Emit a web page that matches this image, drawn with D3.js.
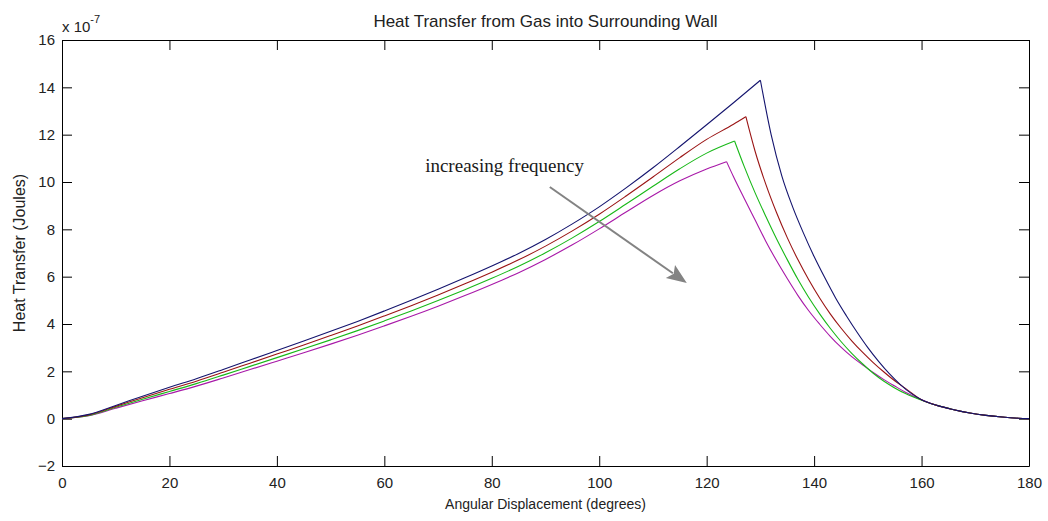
<!DOCTYPE html>
<html>
<head>
<meta charset="utf-8">
<script src="https://cdn.jsdelivr.net/npm/d3@7"></script>
<style>
	body { margin: 0; background: #fff; }
	svg { display: block; font-family: "Liberation Sans", Arial, sans-serif; }
</style>
</head>
<body>
<div id="chart"></div>
<script>

// Heat transfer curves (units of 1e-7 J) vs angular displacement (degrees)
// one series per frequency, lowest frequency first
let lowestFreq = [[0,0],[5,0.18],[10,0.56],[15,0.95],[20,1.33],[25,1.69],[30,2.08],[35,2.48],[40,2.88],[45,3.28],
	[50,3.69],[55,4.11],[60,4.55],[65,5.0],[70,5.47],[75,5.95],[80,6.45],[85,6.98],[90,7.57],[95,8.23],
	[100,8.95],[105,9.75],[110,10.6],[115,11.5],[120,12.42],[125,13.35],[130,14.3],
	[132,12.0],[134,10.25],[136,8.95],[138,7.85],[140,6.85],[142,5.95],[144,5.1],[146,4.35],[148,3.65],
	[150,3.0],[152,2.42],[154,1.9],[156,1.45],[158,1.08],[160,0.8]];

let lowFreq = [[0,0],[5,0.16],[10,0.52],[15,0.885],[20,1.24],[25,1.585],[30,1.96],[35,2.345],[40,2.73],[45,3.115],
	[50,3.51],[55,3.915],[60,4.34],[65,4.775],[70,5.23],[75,5.7],[80,6.19],[85,6.71],[90,7.29],[95,7.935],
	[100,8.64],[105,9.41],[110,10.21],[115,11.03],[120,11.8],[125,12.44],[127.3,12.76],
	[129,11.31],[131,9.91],[133,8.71],[135,7.65],[137,6.71],[139,5.87],[141,5.11],[143,4.43],[145,3.83],
	[147,3.29],[149,2.81],[151,2.37],[153,1.97],[155,1.6],[157,1.28],[160,0.8]];

let highFreq = [[0,0],[5,0.14],[10,0.48],[15,0.82],[20,1.15],[25,1.48],[30,1.84],[35,2.21],[40,2.58],[45,2.95],
	[50,3.33],[55,3.72],[60,4.13],[65,4.55],[70,4.99],[75,5.45],[80,5.93],[85,6.44],[90,7.01],[95,7.64],
	[100,8.33],[105,9.07],[110,9.82],[115,10.56],[120,11.22],[125.2,11.73],
	[127,10.65],[129,9.55],[131,8.55],[133,7.6],[135,6.72],[137,5.88],[139,5.12],[141,4.44],[143,3.82],
	[145,3.26],[147,2.76],[149,2.32],[151,1.92],[153,1.58],[155,1.3],[157,1.06],[160,0.78]];

let highestFreq = [[0,0],[5,0.12],[10,0.44],[15,0.755],[20,1.06],[25,1.375],[30,1.72],[35,2.075],[40,2.43],[45,2.785],
	[50,3.15],[55,3.525],[60,3.92],[65,4.325],[70,4.75],[75,5.2],[80,5.67],[85,6.17],[90,6.73],[95,7.345],
	[100,8.02],[105,8.73],[110,9.43],[115,10.05],[120,10.55],[123.7,10.86],
	[125,10.22],[127,9.3],[129,8.4],[131,7.5],[133,6.68],[135,5.92],[137,5.2],[139,4.56],[141,4.0],
	[143,3.48],[145,3.02],[147,2.62],[149,2.28],[151,1.95],[153,1.65],[155,1.38],[157,1.12],[160,0.8]];

// all curves merge after ~160 degrees
let tailPoints = [[163,0.55],[166,0.38],[169,0.24],[172,0.14],[175,0.07],[178,0.02],[180,0]];

let xTicks = [0, 20, 40, 60, 80, 100, 120, 140, 160, 180];
let yTicks = [-2, 0, 2, 4, 6, 8, 10, 12, 14, 16];

// annotation arrow, in data units: [angle, value]
let arrowFrom = [90.8, 9.79];
let arrowTo = [116.3, 5.73];
let noteAt = [67.6, 10.42];


let margin = { top: 40, right: 19, bottom: 55, left: 62 };
let width = 1048 - margin.left - margin.right,
	height = 521 - margin.top - margin.bottom;

let svg = d3.select("#chart").append("svg")
	.attr("width", 1048)
	.attr("height", 521);

svg.append("rect")
	.attr("width", 1048)
	.attr("height", 521)
	.attr("fill", "#fff");

let g = svg.append("g")
	.attr("transform", "translate(" + margin.left + "," + margin.top + ")");

// Scales
let x = d3.scaleLinear().domain([0, 180]).range([0, width]);
let y = d3.scaleLinear().domain([-2, 16]).range([height, 0]);

// Axes - MATLAB style box with inward ticks
g.append("g")
	.attr("transform", "translate(0," + height + ")")
	.call(d3.axisBottom(x).tickValues(xTicks).tickSizeInner(-10).tickSizeOuter(0).tickPadding(11))
	.attr("font-size", 15).attr("font-family", null);

g.append("g")
	.call(d3.axisTop(x).tickValues(xTicks).tickFormat("").tickSizeInner(-10).tickSizeOuter(0));

g.append("g")
	.call(d3.axisLeft(y).tickValues(yTicks).tickSizeInner(-10).tickSizeOuter(0).tickPadding(7))
	.attr("font-size", 15).attr("font-family", null);

g.append("g")
	.attr("transform", "translate(" + width + ",0)")
	.call(d3.axisRight(y).tickValues(yTicks).tickFormat("").tickSizeInner(-10).tickSizeOuter(0));

g.selectAll(".tick text").attr("fill", "#222");

// Curves - rise and fall drawn separately so the peak stays sharp
let line = d3.line()
	.curve(d3.curveMonotoneX)
	.x(d => x(d[0]))
	.y(d => y(d[1]));

let series = [
	{ values: lowestFreq.concat(tailPoints), color: "#14146e" },
	{ values: lowFreq.concat(tailPoints), color: "#9a1414" },
	{ values: highFreq.concat(tailPoints), color: "#18b818" },
	{ values: highestFreq.concat(tailPoints), color: "#a818a8" }
];

series.slice().reverse().forEach(function (s) {
	let peak = d3.maxIndex(s.values, d => d[1]);
	[s.values.slice(0, peak + 1), s.values.slice(peak)].forEach(function (part) {
		g.append("path")
			.attr("class", "curve")
			.attr("d", line(part))
			.attr("fill", "none")
			.attr("stroke", s.color)
			.attr("stroke-width", 1.1)
			.attr("stroke-linejoin", "miter");
	});
});

// Annotation arrow
let x0 = x(arrowFrom[0]), y0 = y(arrowFrom[1]),
	x1 = x(arrowTo[0]), y1 = y(arrowTo[1]);
let ang = Math.atan2(y1 - y0, x1 - x0);
let headLen = 20, headHalf = 8;
let bx = x1 - headLen * Math.cos(ang), by = y1 - headLen * Math.sin(ang);

g.append("line")
	.attr("x1", x0).attr("y1", y0)
	.attr("x2", bx + 3 * Math.cos(ang)).attr("y2", by + 3 * Math.sin(ang))
	.attr("stroke", "#838383")
	.attr("stroke-width", 2);

g.append("path")
	.attr("d", "M" + x1 + "," + y1 +
		"L" + (bx + headHalf * Math.sin(ang)) + "," + (by - headHalf * Math.cos(ang)) +
		"L" + (bx + 4 * Math.cos(ang)) + "," + (by + 4 * Math.sin(ang)) +
		"L" + (bx - headHalf * Math.sin(ang)) + "," + (by + headHalf * Math.cos(ang)) + "Z")
	.attr("fill", "#838383");

g.append("text")
	.attr("x", x(noteAt[0]))
	.attr("y", y(noteAt[1]))
	.attr("font-family", "'Liberation Serif', 'Times New Roman', serif")
	.attr("font-size", 19)
	.attr("fill", "#1a1a1a")
	.text("increasing frequency");

// Exponent label
let expo = svg.append("text")
	.attr("x", margin.left)
	.attr("y", margin.top - 8)
	.attr("font-size", 15)
	.attr("fill", "#222");
expo.append("tspan").text("x 10");
expo.append("tspan").attr("dy", -9).attr("font-size", 11).text("-7");

// Title and axis labels
svg.append("text")
	.attr("x", margin.left + width / 2)
	.attr("y", 27)
	.attr("text-anchor", "middle")
	.attr("font-size", 17)
	.attr("fill", "#222")
	.text("Heat Transfer from Gas into Surrounding Wall");

svg.append("text")
	.attr("x", margin.left + width / 2)
	.attr("y", 509)
	.attr("text-anchor", "middle")
	.attr("font-size", 14)
	.attr("fill", "#222")
	.text("Angular Displacement (degrees)");

svg.append("text")
	.attr("transform", "translate(25," + (margin.top + height / 2) + ") rotate(-90)")
	.attr("text-anchor", "middle")
	.attr("font-size", 16)
	.attr("fill", "#222")
	.text("Heat Transfer (Joules)");

</script>
</body>
</html>
